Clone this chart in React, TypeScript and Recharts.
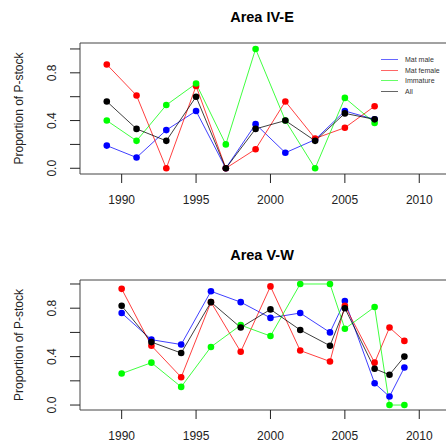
import React from 'react';
import { LineChart, Line, XAxis, YAxis, ReferenceLine } from 'recharts';

// Area IV-E
const years1 = [1989, 1991, 1993, 1995, 1997, 1999, 2001, 2003, 2005, 2007];
const matMale1 = [0.19, 0.09, 0.32, 0.48, 0.0, 0.37, 0.13, 0.24, 0.48, 0.41];
const matFemale1 = [0.87, 0.61, 0.0, 0.69, 0.0, 0.16, 0.56, 0.25, 0.34, 0.52];
const immature1 = [0.4, 0.23, 0.53, 0.71, 0.2, 1.0, 0.4, 0.0, 0.59, 0.38];
const all1 = [0.56, 0.33, 0.23, 0.6, 0.0, 0.33, 0.4, 0.23, 0.46, 0.41];

// Area V-W
const years2 = [1990, 1992, 1994, 1996, 1998, 2000, 2002, 2004, 2005, 2007, 2008, 2009];
const matMale2 = [0.76, 0.54, 0.5, 0.94, 0.85, 0.72, 0.76, 0.6, 0.86, 0.18, 0.07, 0.31];
const matFemale2 = [0.96, 0.49, 0.23, 0.85, 0.44, 0.98, 0.45, 0.36, 0.82, 0.35, 0.64, 0.53];
const immature2 = [0.26, 0.35, 0.15, 0.48, 0.66, 0.57, 1.0, 1.0, 0.63, 0.81, 0.0, 0.0];
const all2 = [0.82, 0.52, 0.43, 0.85, 0.64, 0.79, 0.62, 0.49, 0.8, 0.3, 0.25, 0.4];

const xTicks = [1990, 1995, 2000, 2005, 2010];
const yTicks = [0, 0.2, 0.4, 0.6, 0.8, 1.0];
const yLabelled = [0, 0.4, 0.8];

const seriesNames = ['Mat male', 'Mat female', 'Immature', 'All'];
const seriesKeys = ['male', 'female', 'immature', 'all'];
const seriesColors = ['#0000ff', '#ff0000', '#00ff00', '#000000'];

const FONT = '"Liberation Sans", Arial, sans-serif';
const XDOMAIN: [number, number] = [1987.2, 2012.2];

const buildRows = (years: number[], m: number[], f: number[], im: number[], a: number[]) =>
  years.map((year, i) => ({ year, male: m[i], female: f[i], immature: im[i], all: a[i] }));

const data1 = buildRows(years1, matMale1, matFemale1, immature1, all1);
const data2 = buildRows(years2, matMale2, matFemale2, immature2, all2);

const XTick = (props: any) => {
  const { x, y, payload } = props;
  return (
    <text x={x} y={y + 15} textAnchor="middle" dominantBaseline="central" fontSize={12} fill="#222" fontFamily={FONT}>
      {payload.value}
    </text>
  );
};

const YTick = (props: any) => {
  const { y, payload } = props;
  if (!yLabelled.some((v) => Math.abs(v - payload.value) < 1e-6)) return <g />;
  return (
    <text
      x={52}
      y={y}
      transform={`rotate(-90, 52, ${y})`}
      textAnchor="middle"
      dominantBaseline="central"
      fontSize={12}
      fill="#222"
      fontFamily={FONT}
    >
      {payload.value.toFixed(1)}
    </text>
  );
};

const YLabel = (props: any) => {
  const vb = props.viewBox || {};
  const cy = vb.y + vb.height / 2;
  return (
    <text
      x={19}
      y={cy}
      transform={`rotate(-90, 19, ${cy})`}
      textAnchor="middle"
      dominantBaseline="central"
      fontSize={12}
      fill="#222"
      fontFamily={FONT}
    >
      Proportion of P-stock
    </text>
  );
};

// legend drawn as an overlay so it does not eat into the plot area
const LegendBox = () => (
  <div
    style={{
      position: 'absolute',
      left: 381,
      top: 54,
      width: 62,
      overflow: 'hidden',
      fontFamily: FONT,
      fontSize: 7,
      color: '#333',
    }}
  >
    {seriesNames.map((name, i) => (
      <div key={name} style={{ display: 'flex', alignItems: 'center', height: 10.7, whiteSpace: 'nowrap' }}>
        <div
          style={{
            width: 17,
            height: 0,
            borderTop: `1px solid ${seriesColors[i]}`,
            opacity: 0.6,
            marginRight: 7,
            flexShrink: 0,
          }}
        />
        <span>{name}</span>
      </div>
    ))}
  </div>
);

interface PanelProps {
  data: any[];
  top: number;
  height: number;
  marginTop: number;
  marginBottom: number;
  yDomain: [number, number];
}

const Panel: React.FC<PanelProps> = ({ data, top, height, marginTop, marginBottom, yDomain }) => (
  <div style={{ position: 'absolute', left: 0, top, width: 446, height, overflow: 'hidden' }}>
    <LineChart width={470} height={height} data={data} margin={{ top: marginTop, right: 18, bottom: marginBottom, left: 0 }}>
      <XAxis
        dataKey="year"
        type="number"
        domain={XDOMAIN}
        ticks={xTicks}
        allowDataOverflow
        height={40}
        tickSize={9}
        tickMargin={2}
        tick={<XTick />}
        axisLine={{ stroke: '#444' }}
        tickLine={{ stroke: '#222' }}
      />
      <YAxis
        type="number"
        domain={yDomain}
        ticks={yTicks}
        allowDataOverflow
        width={80}
        tickSize={10}
        tick={<YTick />}
        axisLine={{ stroke: '#444' }}
        tickLine={{ stroke: '#222' }}
        label={<YLabel />}
      />
      <ReferenceLine y={yDomain[1]} stroke="#444" />
      {seriesKeys.map((k, i) => (
        <Line
          key={k}
          dataKey={k}
          stroke={seriesColors[i]}
          strokeWidth={1}
          strokeOpacity={0.75}
          dot={{ r: 3.3, fill: seriesColors[i], stroke: 'none', fillOpacity: 1 }}
          activeDot={false}
          isAnimationActive={false}
        />
      ))}
    </LineChart>
  </div>
);

const Title = ({ text, top }: { text: string; top: number }) => (
  <div
    style={{
      position: 'absolute',
      left: 80,
      width: 364,
      top,
      textAlign: 'center',
      fontFamily: FONT,
      fontWeight: 'bold',
      fontSize: 14.5,
      color: '#000',
      lineHeight: '18px',
    }}
  >
    {text}
  </div>
);

export default function App() {
  return (
    <div style={{ position: 'absolute', left: 0, top: 0, width: 446, height: 447, background: '#fff', overflow: 'hidden' }}>
      <Title text="Area IV-E" top={8} />
      <Panel data={data1} top={0} height={225} marginTop={43} marginBottom={11} yDomain={[-0.048, 1.05]} />
      <LegendBox />
      <Title text="Area V-W" top={246} />
      <Panel data={data2} top={226} height={221} marginTop={54} marginBottom={-3} yDomain={[-0.041, 1.033]} />
    </div>
  );
}
